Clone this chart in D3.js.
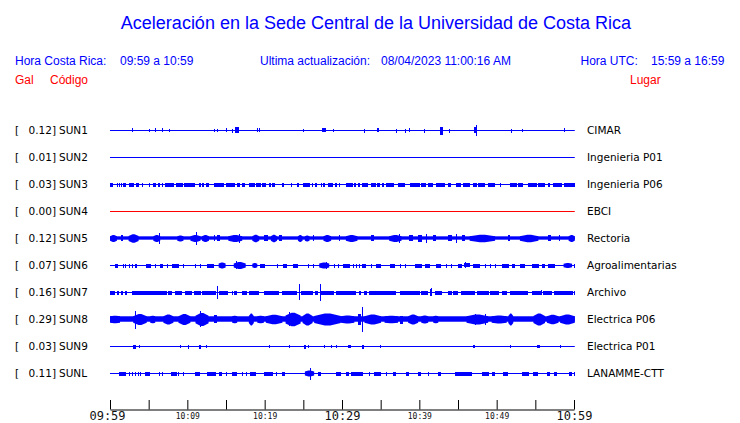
<!DOCTYPE html>
<html>
<head>
<meta charset="utf-8">
<script src="https://cdn.jsdelivr.net/npm/d3@7"></script>
<style>
  html, body { margin: 0; padding: 0; background: #fff; }
  svg { display: block; }
</style>
</head>
<body>
<svg id="chart" width="740" height="423"></svg>
<script>
// ---------------- DATA ----------------
const codes = ["SUN1","SUN2","SUN3","SUN4","SUN5","SUN6","SUN7","SUN8","SUN9","SUNL"];
const peakGal = ["0.12","0.01","0.03","0.00","0.12","0.07","0.16","0.29","0.03","0.11"];
const places = ["CIMAR","Ingenieria P01","Ingenieria P06","EBCI","Rectoria","Agroalimentarias","Archivo","Electrica P06","Electrica P01","LANAMME-CTT"];
const traceColors = ["blue","blue","blue","red","blue","blue","blue","blue","blue","blue"];
// background noise level of each trace (Gal, half amplitude)
const baseNoise = [0.004,0.004,0.004,0.004,0.04,0.004,0.004,0.065,0.004,0.004];
const tickMinutes = [0,5,10,15,20,25,30,35,40,45,50,55,60];
const tickLabels = {0:"09:59",10:"10:09",20:"10:19",30:"10:29",40:"10:39",50:"10:49",60:"10:59"};
const bigTicks = [0,30,60];
const traceEnd = 60.1; // minutes after 09:59

// bursts: [start minute, end minute, half amplitude (Gal)]
const evSUN1 = [[2.8,2.8,.04],[5.1,5.1,.02],[5.8,5.8,.04],[6.7,6.7,.04],[7.6,7.6,.02],[13.5,13.5,.02],[13.8,13.8,.02],[15.0,15.0,.04],[15.8,15.8,.03],[16.1,16.6,.065],[19.0,19.0,.04],[19.3,19.3,.04],[25.0,25.0,.02],[27.4,27.9,.04],[28.8,28.8,.02],[32.9,32.9,.03],[34.5,34.8,.04],[37.0,37.0,.03],[38.1,38.1,.03],[38.7,38.7,.04],[40.6,40.6,.03],[42.7,43.1,.08],[43.9,43.9,.03],[47.1,47.5,.06],[47.3,47.3,.12],[51.9,51.9,.03],[53.3,53.3,.02],[58.7,58.7,.04]];
const evSUN2 = [];
const evSUN3 = [[0,0.35,.03],[0.95,0.95,.03],[1.2,1.2,.03],[1.45,1.45,.03],[1.65,2.05,.03],[2.4,2.6,.03],[2.7,3.1,.03],[3.35,3.75,.03],[4.2,4.2,.03],[5.1,5.1,.03],[5.55,5.95,.03],[6.2,6.5,.03],[6.7,6.7,.03],[7.05,8.15,.03],[8.55,9.45,.03],[9.6,11.05,.03],[11.45,11.7,.03],[11.9,12.1,.03],[12.35,12.7,.03],[13.4,14.65,.03],[15.05,16.15,.03],[16.45,16.9,.03],[17.1,17.45,.03],[17.95,18.7,.03],[18.85,19.5,.03],[19.7,20.25,.03],[20.55,20.8,.03],[21.0,21.35,.03],[22.2,22.5,.03],[23.45,23.45,.03],[24.15,24.45,.03],[24.9,25.75,.03],[26.15,26.15,.03],[26.55,26.75,.03],[27.25,27.25,.03],[27.6,27.85,.03],[28.25,28.9,.03],[29.15,29.35,.03],[29.65,29.65,.03],[30.5,31.4,.03],[31.6,31.8,.03],[32.05,32.25,.03],[32.55,33.35,.03],[33.7,34.3,.03],[34.55,34.95,.03],[35.2,35.5,.03],[35.7,36.7,.03],[37.25,38.2,.03],[38.75,40.05,.03],[40.25,40.9,.03],[41.15,41.8,.03],[42.2,43.3,.03],[43.7,44.15,.03],[44.7,45.35,.03],[45.65,46.55,.03],[46.9,47.4,.03],[47.6,48.5,.03],[48.9,49.85,.03],[50.45,50.45,.03],[51.75,52.6,.03],[52.8,53.45,.03],[54.1,55.2,.03],[55.4,56.25,.03],[56.7,56.9,.03],[57.25,58.45,.03],[58.65,60.1,.03]];
const evSUN4 = [];
const evSUN5 = [[0,0.9,.07],[1.4,1.7,.06],[2.4,3.7,.09],[5.6,6.5,.07],[6.3,6.3,.12],[8.7,9.5,.06],[10.4,11.7,.07],[11.1,11.1,.14],[11.9,12.8,.07],[13.4,13.4,.06],[13.9,14.3,.06],[15.3,17.1,.07],[16.7,16.7,.1],[18.4,19.3,.08],[19.9,20.4,.06],[20.8,21.6,.08],[21.9,22.3,.06],[24.3,24.9,.07],[25.2,25.8,.06],[26.2,26.2,.06],[27.6,28.6,.07],[29.6,29.6,.06],[30.5,32.0,.07],[33.8,34.2,.06],[36.1,37.7,.07],[37.4,37.4,.09],[38.7,39.2,.06],[39.8,40.3,.07],[40.9,40.9,.1],[41.8,42.2,.06],[43.7,44.2,.06],[44.8,44.8,.1],[45.5,45.9,.06],[46.5,49.8,.08],[51.5,51.7,.06],[53.0,55.4,.08],[56.7,57.1,.06],[58.0,58.0,.06],[59.3,60.1,.07]];
const evSUN6 = [[0.65,1.1,.035],[1.65,1.65,.03],[1.95,1.95,.03],[2.4,2.4,.03],[2.8,2.8,.03],[3.25,3.45,.035],[4.7,5.3,.035],[5.85,5.85,.03],[6.5,6.9,.035],[7.35,7.35,.03],[8.0,8.9,.035],[9.45,9.45,.03],[11.05,11.05,.03],[11.7,11.7,.03],[12.55,13.4,.035],[14.05,14.95,.06],[16.0,17.55,.07],[16.25,16.25,.085],[18.4,19.05,.05],[19.4,20.1,.035],[21.55,21.55,.03],[22.4,22.95,.035],[23.6,24.25,.035],[25.55,25.55,.03],[26.2,26.2,.03],[27.05,28.35,.06],[27.9,27.9,.075],[29.0,29.0,.03],[29.45,29.45,.03],[30.1,30.95,.035],[31.4,31.4,.03],[31.8,31.8,.03],[32.25,32.25,.03],[32.55,33.1,.035],[33.75,33.75,.03],[34.4,35.05,.035],[36.15,36.8,.035],[37.45,37.45,.03],[38.1,38.1,.03],[39.4,40.25,.035],[40.7,41.35,.035],[42.2,42.85,.035],[43.5,43.5,.03],[44.15,44.15,.03],[44.95,45.45,.035],[45.8,46.55,.04],[45.95,45.95,.06],[46.95,47.85,.035],[48.5,48.5,.03],[49.15,49.15,.03],[49.8,49.8,.03],[50.65,51.5,.035],[51.95,52.4,.035],[53.0,53.6,.035],[54.55,55.4,.035],[55.85,56.25,.035],[56.7,57.55,.035],[58.65,59.75,.05],[60.05,60.05,.03]];
const evSUN7 = [[0,0.65,.035],[0.85,1.1,.035],[1.4,1.7,.035],[1.95,2.15,.035],[2.8,7.35,.035],[7.5,8.0,.035],[8.45,9.3,.035],[9.75,10.6,.035],[10.8,11.7,.035],[11.9,13.65,.035],[13.8,13.8,.14],[14.05,15.15,.035],[15.8,15.8,.03],[16.0,16.45,.035],[17.1,17.75,.035],[17.95,19.25,.035],[19.9,21.85,.035],[22.3,24.25,.035],[24.4,24.4,.18],[24.65,26.2,.035],[26.5,26.85,.035],[27.1,27.1,.19],[27.25,28.95,.035],[29.2,31.8,.035],[32.25,32.45,.035],[32.9,33.35,.035],[33.55,37.0,.035],[37.45,40.05,.035],[40.25,41.15,.035],[41.35,41.65,.07],[41.45,41.45,.085],[42.0,42.85,.035],[43.65,44.15,.035],[44.4,45.0,.035],[45.45,47.2,.035],[47.4,48.9,.035],[49.1,50.2,.035],[50.65,51.3,.035],[51.75,54.1,.035],[54.55,55.85,.035],[55.7,55.7,.05],[56.05,57.15,.035],[57.35,59.75,.035],[60.05,60.05,.03]];
const evSUN8 = [[0,1.3,.075],[3.0,4.75,.12],[3.25,3.25,.2],[5.2,5.85,.075],[6.9,8.2,.11],[8.85,10.4,.12],[11.05,12.75,.14],[11.6,11.6,.18],[13.4,13.85,.085],[15.8,16.45,.075],[17.95,18.6,.13],[19.05,19.9,.075],[20.15,22.3,.1],[22.7,24.65,.15],[23.15,23.15,.155],[24.9,26.2,.13],[26.4,29.85,.13],[29.85,31.6,.085],[32.05,32.45,.12],[32.65,32.65,.29],[32.9,35.05,.11],[35.5,37.25,.075],[37.45,37.9,.08],[38.55,39.85,.11],[40.25,41.15,.085],[41.8,42.45,.075],[46.1,48.9,.11],[47.2,47.2,.12],[48.5,48.5,.12],[49.35,51.3,.085],[51.5,52.15,.13],[54.75,56.25,.13],[56.5,58.0,.1],[58.2,60.1,.11]];
const evSUN9 = [[3.0,3.45,.035],[3.75,3.75,.02],[9.1,9.1,.02],[10.15,10.15,.03],[11.45,11.7,.035],[12.45,12.45,.02],[20.55,20.55,.02],[23.15,23.15,.02],[25.1,25.3,.03],[25.55,25.55,.02],[27.7,27.7,.02],[28.55,28.55,.02],[29.2,29.2,.02],[30.75,31.15,.02],[32.55,32.8,.035],[34.85,34.85,.02],[46.95,47.2,.02],[51.75,51.75,.02],[55.2,55.6,.025],[58.2,58.2,.02]];
const evSUNL = [[1.1,1.95,.035],[2.4,2.4,.03],[2.8,2.8,.03],[3.25,3.25,.03],[3.65,3.65,.03],[3.9,3.9,.03],[4.55,5.2,.035],[6.3,6.3,.03],[6.7,6.7,.03],[7.9,8.65,.035],[8.85,8.85,.03],[9.5,9.5,.03],[11.05,11.7,.035],[12.55,13.65,.035],[14.05,14.5,.035],[15.05,15.05,.03],[15.8,16.45,.035],[17.1,17.1,.03],[17.55,17.55,.03],[18.1,18.85,.035],[19.9,21.0,.035],[21.45,21.45,.03],[22.3,22.7,.035],[25.2,26.4,.06],[25.85,25.85,.13],[26.85,27.25,.035],[29.2,29.85,.035],[30.5,30.95,.035],[31.15,32.7,.035],[33.55,33.55,.03],[34.2,35.05,.035],[35.7,35.7,.03],[36.6,37.0,.035],[38.3,38.75,.035],[39.85,40.25,.035],[41.15,41.15,.03],[42.45,42.85,.035],[44.6,46.75,.035],[48.05,48.9,.035],[49.35,49.75,.035],[50.85,51.5,.035],[53.25,54.1,.035],[54.75,55.4,.035],[56.5,56.9,.035],[57.35,57.8,.035],[59.3,59.75,.035],[59.95,59.95,.03]];
const events = [evSUN1,evSUN2,evSUN3,evSUN4,evSUN5,evSUN6,evSUN7,evSUN8,evSUN9,evSUNL];

// ---------------- DRAW ----------------
const svg = d3.select("#chart");
svg.append("rect").attr("width",740).attr("height",423).attr("fill","#fff");

const x = d3.scaleLinear().domain([0,60]).range([110,574]);
const row = d3.scaleBand().domain(codes).range([116.5,386.5]);
const amp = d3.scaleLinear().domain([-0.3,0.3]).range([12.6,-12.6]);

const sans = "'Liberation Sans', Arial, sans-serif";
const dv = "'DejaVu Sans', sans-serif";
const mono = "'DejaVu Sans Mono', monospace";

svg.append("text").attr("x",376).attr("y",29).attr("text-anchor","middle")
  .attr("font-family",sans).attr("font-size",18).attr("fill","#0000ff")
  .text("Aceleración en la Sede Central de la Universidad de Costa Rica");

const hdr = [
  [15,"Hora Costa Rica:"],[120,"09:59 a 10:59"],[260,"Ultima actualización:"],
  [381,"08/04/2023 11:00:16 AM"],[580.5,"Hora UTC:"],[651,"15:59 a 16:59"]];
svg.selectAll("text.hdr").data(hdr).enter().append("text").attr("class","hdr")
  .attr("x",d=>d[0]).attr("y",65).attr("font-family",sans).attr("font-size",12)
  .attr("fill","#0000ff").text(d=>d[1]);

const red = [[15,"Gal"],[50,"Código"],[630,"Lugar"]];
svg.selectAll("text.red").data(red).enter().append("text").attr("class","red")
  .attr("x",d=>d[0]).attr("y",84).attr("font-family",sans).attr("font-size",12)
  .attr("fill","#ff0000").text(d=>d[1]);

const g = svg.selectAll("g.trace").data(codes).enter().append("g").attr("class","trace")
  .attr("transform",d=>`translate(0,${row(d)+row.bandwidth()/2})`);

g.append("text").attr("x",15).attr("y",4).attr("font-family",dv).attr("font-size",10.5).text("[");
g.append("text").attr("x",56).attr("y",4).attr("text-anchor","end").attr("font-family",dv)
  .attr("font-size",10.5).text((d,i)=>peakGal[i]+"]");
g.append("text").attr("x",59).attr("y",4).attr("font-family",dv).attr("font-size",10.5).text(d=>d);
g.append("text").attr("x",587).attr("y",4).attr("font-family",dv).attr("font-size",10.5)
  .text((d,i)=>places[i]);

// a burst drawn as a tapered envelope (full amplitude near its middle)
const burst = d3.area().x(p=>p[0]).y0(p=>p[1]).y1(p=>p[2]);

g.each(function(d,i){
  const s = d3.select(this);
  const col = traceColors[i];
  const b = baseNoise[i];
  if (b > 0.01) {
    s.append("rect").attr("x",x(0)).attr("width",x(traceEnd)-x(0))
      .attr("y",amp(b)).attr("height",amp(-b)-amp(b)).attr("fill",col);
  }
  s.append("line").attr("x1",x(0)).attr("x2",x(traceEnd)).attr("y1",0.5).attr("y2",0.5)
    .attr("stroke",col).attr("stroke-width",1);
  events[i].forEach(e=>{
    const x0 = x(e[0]), x1 = x(Math.min(e[1],traceEnd)), w = x1 - x0;
    if (w < 4 || e[2] <= 0.04) {
      s.append("rect").attr("x",Math.round(x0))
        .attr("width",Math.max(1,Math.round(w)))
        .attr("y",Math.round(amp(e[2])))
        .attr("height",Math.max(1,Math.round(amp(-e[2])-amp(e[2]))+1))
        .attr("fill",col);
    } else {
      const lo = Math.max(b, e[2]*0.55);
      const pts = [
        [x0, amp(lo), amp(-lo)+1],
        [x0 + w*0.4, amp(e[2]), amp(-e[2])+1],
        [x0 + w*0.6, amp(e[2]), amp(-e[2])+1],
        [x1, amp(lo), amp(-lo)+1]];
      s.append("path").attr("d",burst(pts)).attr("fill",col);
    }
  });
});

// time axis
const axis = d3.axisBottom(x).tickValues(tickMinutes).tickSize(-9.5).tickSizeOuter(0)
  .tickFormat(m=>tickLabels[m]||"");
const ax = svg.append("g").attr("transform","translate(0,409.5)").call(axis);
ax.select(".domain").attr("stroke","#000");
ax.selectAll(".tick line").attr("stroke","#000");
ax.selectAll(".tick text")
  .attr("fill","#111").attr("font-family",mono)
  .attr("dy",null)
  .attr("font-size",m=>bigTicks.includes(m)?12:8)
  .attr("x",m=>m===0?-3:0)
  .attr("y",m=>bigTicks.includes(m)?10.5:9);
</script>
</body>
</html>
